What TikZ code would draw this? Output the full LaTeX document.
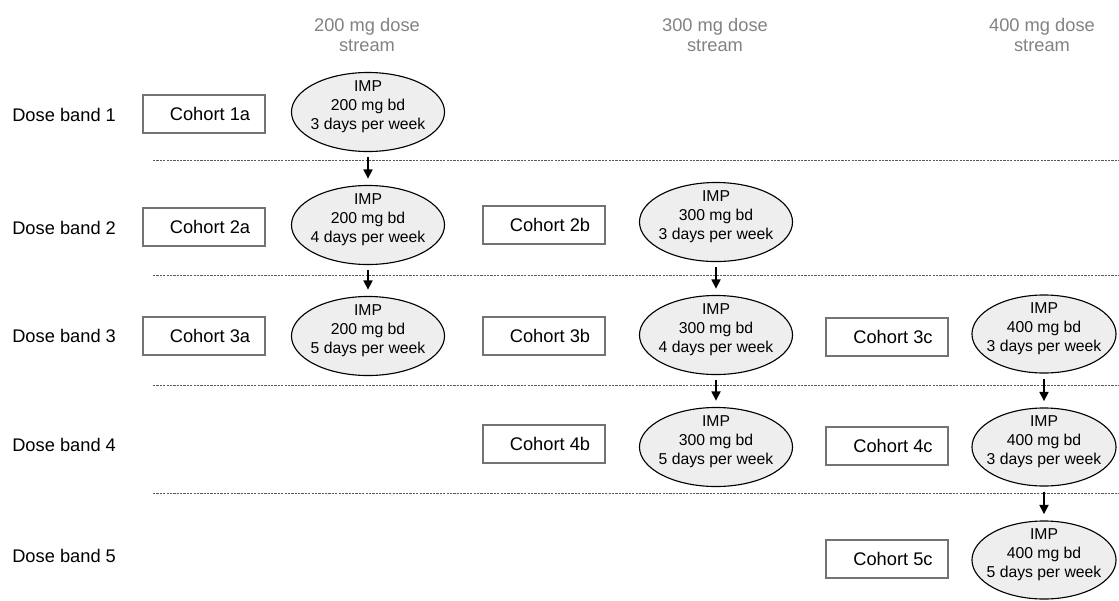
\documentclass[tikz,border=0pt]{standalone}
\usepackage{fontspec}
\setmainfont{Liberation Sans}
\usetikzlibrary{arrows.meta,shapes.geometric}
\definecolor{hdgrey}{RGB}{130,130,130}
\definecolor{boxgrey}{RGB}{115,115,115}
\definecolor{impfill}{RGB}{238,238,238}
\newcommand{\imptext}[2]{IMP\\#1 mg bd\\#2 days per week\rule[-10pt]{0pt}{0pt}}
\tikzset{
  hdr/.style={align=center,text=hdgrey,font=\fontsize{13}{14.2}\selectfont},
  band/.style={anchor=west,inner sep=0pt,font=\fontsize{13}{14.2}\selectfont},
  cohort/.style={draw=boxgrey,line width=1pt,minimum width=3.05cm,minimum height=0.95cm,inner sep=0pt,font=\fontsize{13}{14.2}\selectfont,execute at begin node=\hspace*{0.3cm}},
  imp/.style={ellipse,draw,fill=impfill,line width=0.8pt,align=center,inner sep=-0.3cm,minimum width=3.825cm,minimum height=1.975cm,font=\fontsize{11.2}{13.5}\selectfont},
  impc/.style={imp,minimum width=3.6cm,minimum height=1.95cm},
  sepline/.style={draw=black!65,line width=0.6pt,dash pattern=on 1.6pt off 0.8pt},
  flow/.style={line width=0.9pt,-{Triangle[width=6.5pt,length=6.5pt]},shorten <=3.5pt,shorten >=4.5pt}
}

\begin{document}
\begin{tikzpicture}[x=0.025cm,y=-0.025cm]
\useasboundingbox (0,0) rectangle (1119,600);

% dose streams
\node[hdr] (hda) at (367,35) {200 mg dose\\stream};
\node[hdr] (hdb) at (715,35) {300 mg dose\\stream};
\node[hdr] (hdc) at (1042,35) {400 mg dose\\stream};

% dose bands
\node[band] (db1) at (12,115) {Dose band 1};
\node[band] (db2) at (12,228) {Dose band 2};
\node[band] (db3) at (12,336) {Dose band 3};
\node[band] (db4) at (12,445) {Dose band 4};
\node[band] (db5) at (12,556) {Dose band 5};

\foreach \yy in {160,275,385,493}
  \draw[sepline] (153,\yy) -- (1119,\yy);

% cohorts
\node[cohort] (c1a) at (204,114) {Cohort 1a};
\node[cohort] (c2a) at (204,227) {Cohort 2a};
\node[cohort] (c2b) at (544,225) {Cohort 2b};
\node[cohort] (c3a) at (204,336) {Cohort 3a};
\node[cohort] (c3b) at (544,336) {Cohort 3b};
\node[cohort] (c3c) at (887,337) {Cohort 3c};
\node[cohort] (c4b) at (544,444) {Cohort 4b};
\node[cohort] (c4c) at (887,446) {Cohort 4c};
\node[cohort] (c5c) at (887,559) {Cohort 5c};

% IMP doses
\node[imp] (e1a) at (368,112) {\imptext{200}{3}};
\node[imp] (e2a) at (368,225) {\imptext{200}{4}};
\node[imp] (e3a) at (368,336) {\imptext{200}{5}};
\node[imp] (e2b) at (716,222) {\imptext{300}{3}};
\node[imp] (e3b) at (716,335) {\imptext{300}{4}};
\node[imp] (e4b) at (716,447) {\imptext{300}{5}};
\node[impc] (e3c) at (1044,334) {\imptext{400}{3}};
\node[impc] (e4c) at (1044,447) {\imptext{400}{3}};
\node[impc] (e5c) at (1044,560) {\imptext{400}{5}};

\draw[flow] (e1a) -- (e2a);
\draw[flow] (e2a) -- (e3a);
\draw[flow] (e2b) -- (e3b);
\draw[flow] (e3b) -- (e4b);
\draw[flow] (e3c) -- (e4c);
\draw[flow] (e4c) -- (e5c);
\end{tikzpicture}
\end{document}
